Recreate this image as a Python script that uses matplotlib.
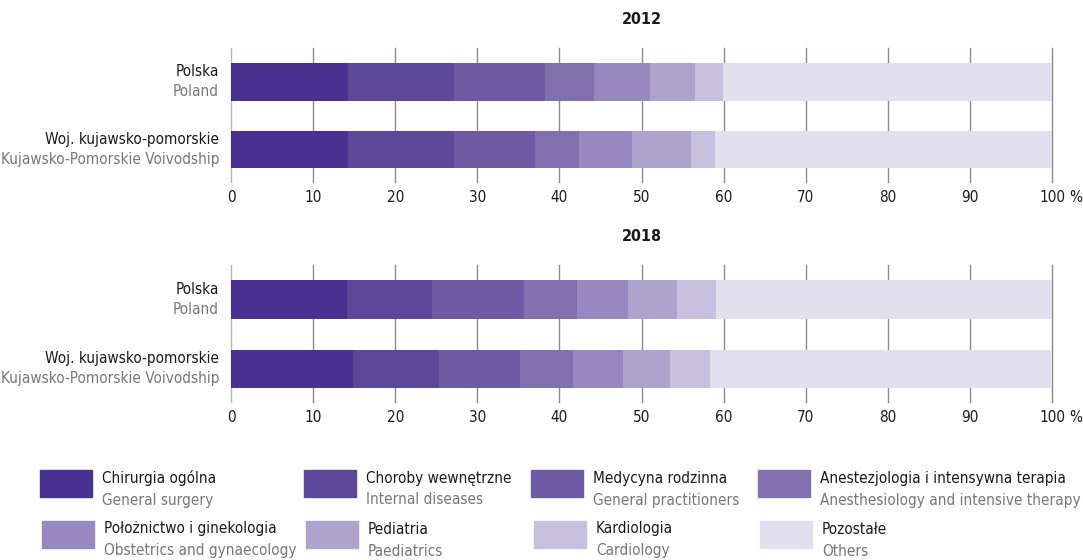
import matplotlib
matplotlib.use("Agg")
import matplotlib.pyplot as plt
from matplotlib.patches import Rectangle

plt.rcParams['font.family'] = ['DejaVu Sans']
plt.rcParams['font.stretch'] = 'condensed'

# Data (percent shares)
regions_pl = ["Polska", "Woj. kujawsko-pomorskie"]
regions_en = ["Poland", "Kujawsko-Pomorskie Voivodship"]
years = ["2012", "2018"]

cat_pl = ["Chirurgia ogólna", "Choroby wewnętrzne", "Medycyna rodzinna",
          "Anestezjologia i intensywna terapia", "Położnictwo i ginekologia",
          "Pediatria", "Kardiologia", "Pozostałe"]
cat_en = ["General surgery", "Internal diseases", "General practitioners",
          "Anesthesiology and intensive therapy", "Obstetrics and gynaecology",
          "Paediatrics", "Cardiology", "Others"]

shares_2012 = [
    [14.3, 12.9, 11.0, 6.0, 6.8, 5.5, 3.4, 40.1],   # Polska
    [14.3, 12.8, 9.9, 5.4, 6.5, 7.1, 2.9, 41.1],    # kujawsko-pomorskie
]
shares_2018 = [
    [14.1, 10.4, 11.2, 6.5, 6.2, 5.9, 4.8, 40.9],
    [14.8, 10.5, 9.9, 6.5, 6.0, 5.8, 4.8, 41.6],
]
ticks = [0, 10, 20, 30, 40, 50, 60, 70, 80, 90, 100]

colors = ['#4a3091', '#5d4799', '#705aa5', '#826fae',
          '#9789c0', '#aea3cd', '#c7c0df', '#e2e0ef']

FS = 11

fig = plt.figure(figsize=(10.83, 5.6), dpi=100)

def draw_panel(ax, data, title):
    for i, row in enumerate(data):
        left = 0
        for j, v in enumerate(row):
            ax.barh(i, v, left=left, height=0.56, color=colors[j], zorder=3)
            left += v
    ax.set_xlim(0, 100)
    ax.set_ylim(1.48, -0.5)
    ax.set_xticks(ticks)
    ax.set_xticklabels([str(t) for t in ticks])
    ax.annotate("%", xy=(100, 0), xycoords=('data', 'axes fraction'),
                xytext=(17, -8), textcoords='offset pixels',
                ha='left', va='top', fontsize=FS, color='#1a1a1a')
    ax.tick_params(axis='x', length=0, pad=6, labelsize=FS, labelcolor='#1a1a1a')
    ax.set_yticks([])
    for s in ax.spines.values():
        s.set_visible(False)
    ax.grid(axis='x', color='#8a8a8a', linewidth=1.0, zorder=0)
    ax.set_axisbelow(True)
    for gl in ax.get_xgridlines():
        gl.set_clip_on(False)
    ax.get_xgridlines()[0].set_color('#b5b5b5')
    ax.set_title(title, fontsize=FS + 0.5, fontweight='bold', pad=17, color='#1a1a1a')
    for i in range(len(regions_pl)):
        ax.annotate(regions_pl[i], xy=(0, i), xycoords=('axes fraction', 'data'),
                    xytext=(-12, 10), textcoords='offset pixels',
                    ha='right', va='center', fontsize=FS, color='#1a1a1a')
        ax.annotate(regions_en[i], xy=(0, i), xycoords=('axes fraction', 'data'),
                    xytext=(-12, -10), textcoords='offset pixels',
                    ha='right', va='center', fontsize=FS, color='#777777')

ax1 = fig.add_axes([0.2133, 0.675, 0.7581, 0.2393])
draw_panel(ax1, shares_2012, years[0])
ax2 = fig.add_axes([0.2133, 0.282, 0.7581, 0.2446])
draw_panel(ax2, shares_2018, years[1])

# Legend drawn by hand in figure pixels
W, H = 1083, 560
sq_x = [[40, 304, 531, 758], [42, 306, 534, 760]]
sq_top = [470, 521]
for k in range(8):
    r, c = divmod(k, 4)
    x0 = sq_x[r][c]
    y0 = sq_top[r]
    fig.patches.append(Rectangle((x0 / W, 1 - (y0 + 27) / H), 52 / W, 27 / H,
                                 transform=fig.transFigure, color=colors[k]))
    fig.text((x0 + 62) / W, 1 - (y0 + 8) / H, cat_pl[k], ha='left', va='center',
             fontsize=FS, color='#1a1a1a')
    fig.text((x0 + 62) / W, 1 - (y0 + 30) / H, cat_en[k], ha='left', va='center',
             fontsize=FS, color='#777777')

fig.savefig("out.png", dpi=100)
